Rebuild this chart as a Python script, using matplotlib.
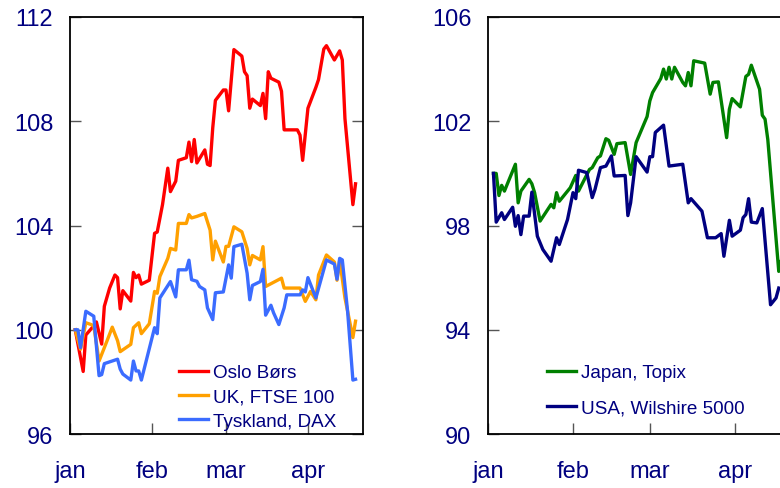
import matplotlib
matplotlib.use("Agg")
import matplotlib.pyplot as plt
import pandas as pd

plt.rcParams['font.family'] = ['Liberation Sans', 'DejaVu Sans']

# days after 1 January
oslo_dag = [2, 5, 6, 9, 10, 12, 13, 15, 17, 18, 19, 20, 23, 24, 25, 26, 27, 30,
            32, 33, 35, 37, 38, 40, 41, 44, 45, 46, 47, 48, 51, 52, 53, 54, 55,
            58, 59, 60, 62, 65, 66, 67, 68, 69, 72, 73, 74, 75, 76, 79, 80, 81,
            86, 87, 88, 90, 93, 94, 96, 97, 100, 102, 103, 104, 107, 108]
oslo = [100.0, 98.4, 99.8, 100.15, 100.3, 99.45, 100.9, 101.6, 102.1, 102.0,
        100.8, 101.5, 101.1, 102.2, 102.0, 102.1, 101.75, 101.9, 103.7, 103.75,
        104.8, 106.2, 105.3, 105.7, 106.5, 106.6, 107.2, 106.45, 107.3, 106.4,
        106.9, 106.35, 106.3, 107.75, 108.8, 109.2, 109.2, 108.4, 110.75, 110.5,
        109.9, 109.75, 108.5, 108.85, 108.6, 109.07, 108.1, 109.9, 109.65, 109.5,
        109.15, 107.67, 107.67, 107.47, 106.5, 108.5, 109.3, 109.6, 110.77, 110.9,
        110.35, 110.7, 110.35, 108.1, 104.8, 105.6]

ftse_dag = [2, 4, 6, 8, 9, 11, 14, 16, 18, 19, 23, 24, 26, 27, 30, 32, 33, 34,
            37, 38, 40, 41, 44, 45, 46, 48, 51, 53, 54, 55, 58, 59, 60, 62, 65,
            67, 68, 69, 72, 73, 74, 80, 81, 87, 89, 91, 93, 94, 97, 100, 101,
            102, 104, 107, 108]
ftse = [100.0, 99.25, 100.27, 100.2, 100.15, 98.8, 99.57, 100.1, 99.58, 99.16,
        99.44, 100.08, 100.27, 99.85, 100.23, 101.47, 101.4, 102.04, 102.74,
        103.12, 103.06, 104.08, 104.08, 104.42, 104.29, 104.35, 104.46, 103.82,
        102.68, 103.4, 102.6, 103.2, 103.2, 103.95, 103.76, 103.12, 102.49,
        102.85, 102.68, 103.19, 101.66, 101.98, 101.6, 101.6, 101.09, 101.47,
        101.15, 102.1, 102.87, 102.6, 101.9, 102.68, 101.22, 99.7, 100.33]

dax_dag = [2, 3, 4, 6, 9, 11, 12, 13, 18, 19, 20, 23, 24, 25, 26, 27, 32, 33,
           34, 38, 40, 41, 44, 45, 46, 48, 49, 51, 52, 54, 55, 58, 60, 61, 62,
           65, 67, 68, 69, 72, 73, 74, 76, 77, 79, 81, 82, 87, 88, 89, 90, 93,
           97, 100, 101, 102, 103, 105, 107, 108]
dax = [100.0, 100.0, 99.31, 100.71, 100.52, 98.24, 98.28, 98.7, 98.87, 98.49,
       98.3, 98.07, 98.8, 98.42, 98.42, 98.07, 100.08, 99.85, 101.22, 101.85,
       101.26, 102.3, 102.3, 102.67, 101.92, 101.86, 101.66, 101.53, 100.84,
       100.39, 101.42, 101.45, 102.49, 101.98, 103.19, 103.28, 102.17, 101.15,
       101.7, 101.85, 102.32, 100.56, 100.94, 100.65, 100.2, 100.84, 101.34,
       101.34, 101.53, 101.45, 102.0, 101.22, 102.68, 102.52, 101.94, 102.74,
       102.68, 100.71, 98.07, 98.1]

topix_dag = [2, 3, 4, 5, 6, 10, 11, 12, 15, 16, 17, 19, 23, 24, 25, 26, 30, 32,
             33, 37, 38, 40, 41, 43, 44, 46, 47, 50, 52, 54, 58, 59, 60, 63, 64,
             65, 66, 67, 68, 71, 72, 73, 74, 75, 79, 81, 82, 84, 87, 88, 89, 92,
             94, 95, 96, 99, 100, 101, 102, 106, 107]
topix = [100.0, 100.0, 99.15, 99.54, 99.32, 100.35, 98.87, 99.32, 99.77, 99.6,
         99.26, 98.17, 98.81, 98.68, 99.26, 98.93, 99.45, 99.92, 99.32, 100.15,
         100.22, 100.6, 100.67, 101.33, 101.27, 100.73, 101.14, 101.18, 99.96,
         101.18, 102.18, 102.78, 103.1, 103.64, 104.0, 103.62, 104.07, 103.62,
         104.07, 103.49, 103.36, 103.87, 103.36, 104.32, 104.23, 103.04, 103.49,
         103.51, 101.37, 102.46, 102.87, 102.55, 103.72, 103.8, 104.15, 103.23,
         102.23, 102.08, 101.3, 96.24, 96.7]

wilshire_dag = [2, 3, 5, 6, 9, 10, 11, 12, 13, 15, 16, 18, 20, 23, 25, 26, 29,
                31, 32, 33, 36, 38, 39, 41, 43, 45, 46, 50, 51, 52, 54, 58, 59,
                60, 61, 64, 66, 71, 73, 74, 78, 80, 83, 85, 86, 88, 89, 92, 93,
                94, 95, 96, 98, 100, 103, 105, 106]
wilshire = [100.0, 98.13, 98.49, 98.23, 98.7, 97.97, 98.38, 97.65, 98.36, 98.36,
            99.28, 97.59, 97.08, 96.63, 97.53, 97.27, 98.23, 99.26, 99.03, 100.12,
            100.03, 99.07, 99.38, 100.22, 100.28, 100.67, 99.9, 99.92, 98.38,
            98.87, 100.64, 100.05, 100.64, 100.64, 101.57, 101.85, 100.28, 100.35,
            98.87, 99.03, 98.55, 97.53, 97.53, 97.69, 96.82, 98.2, 97.59, 97.82,
            98.3, 98.42, 99.03, 98.13, 98.1, 98.65, 94.96, 95.22, 95.6]

maaneder = ['jan', 'feb', 'mar', 'apr']
start = pd.Timestamp('2003-01-01')
slutt = start + pd.Timedelta(days=110.8)
navy = '#000080'


def datoer(dager):
    return start + pd.to_timedelta(dager, unit='D')


def pynt(ax, yticks):
    ax.set_xlim(start, slutt)
    ax.set_ylim(yticks[0], yticks[-1])
    ax.set_yticks(yticks)
    ax.set_yticklabels([str(t) for t in yticks])
    mnd = pd.date_range(start, periods=4, freq='MS')
    ax.set_xticks(mnd)
    ax.set_xticklabels(maaneder)
    ax.tick_params(axis='y', direction='in', length=8, width=1, color='#555555',
                   left=True, right=True, labelsize=17, labelcolor=navy, pad=12)
    ax.tick_params(axis='x', direction='in', length=8, width=1, color='#555555',
                   labelsize=17, labelcolor=navy, pad=19)
    for s in ax.spines.values():
        s.set_linewidth(1.3)
        s.set_color('black')


fig = plt.figure(figsize=(7.8, 4.89), dpi=100)
ax1 = fig.add_axes([0.0897, 0.1104, 0.3756, 0.8528])
ax2 = fig.add_axes([0.6256, 0.1104, 0.3897, 0.8528])

ax1.plot(datoer(oslo_dag), oslo, color='#ff0000', lw=2.4, label='Oslo Børs')
ax1.plot(datoer(ftse_dag), ftse, color='#ffa000', lw=2.4, label='UK, FTSE 100')
ax1.plot(datoer(dax_dag), dax, color='#3b6cff', lw=2.4, label='Tyskland, DAX')
pynt(ax1, [96, 100, 104, 108, 112])
leg1 = ax1.legend(loc='upper left', bbox_to_anchor=(0.373, 0.168), frameon=False,
                  fontsize=13.6, handlelength=1.5, handletextpad=0.3,
                  labelspacing=0.38, borderpad=0, borderaxespad=0)
for t in leg1.get_texts():
    t.set_color(navy)

ax2.plot(datoer(topix_dag), topix, color='#008000', lw=2.4, label='Japan, Topix')
ax2.plot(datoer(wilshire_dag), wilshire, color=navy, lw=2.4,
         label='USA, Wilshire 5000')
pynt(ax2, [90, 94, 98, 102, 106])
leg2 = ax2.legend(loc='upper left', bbox_to_anchor=(0.195, 0.168), frameon=False,
                  fontsize=13.6, handlelength=1.5, handletextpad=0.3,
                  labelspacing=0.95, borderpad=0, borderaxespad=0)
for t in leg2.get_texts():
    t.set_color(navy)

fig.savefig('out.png', dpi=100)
